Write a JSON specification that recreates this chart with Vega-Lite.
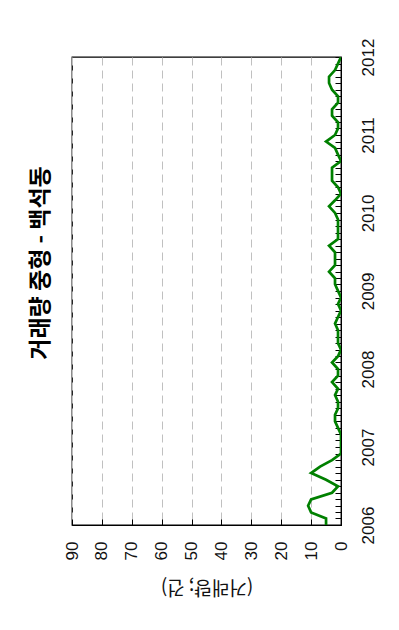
{
  "$schema": "https://vega.github.io/schema/vega-lite/v6.json",
  "width": 269,
  "height": 468,
  "autosize": {"type": "none"},
  "padding": {"left": 72, "top": 57, "right": 58, "bottom": 105},
  "background": "white",
  "title": {
    "text": "거래량 중형 - 백석동",
    "orient": "left",
    "anchor": "middle",
    "font": "Noto Sans CJK KR",
    "fontSize": 23,
    "fontWeight": "bold",
    "color": "#000000",
    "offset": 10,
    "dx": 28
  },
  "config": {
    "view": {"stroke": "#000000", "strokeWidth": 1.3},
    "axis": {
      "labelFont": "Liberation Sans",
      "labelFontSize": 17,
      "labelColor": "#111111",
      "domainColor": "#000000",
      "tickColor": "#000000"
    }
  },
  "data": {
    "values": [
      {"date": "2006-01", "count": 5}, {"date": "2006-02", "count": 5}, {"date": "2006-03", "count": 10}, {"date": "2006-04", "count": 11},
      {"date": "2006-05", "count": 10}, {"date": "2006-06", "count": 3}, {"date": "2006-07", "count": 1}, {"date": "2006-08", "count": 5},
      {"date": "2006-09", "count": 10}, {"date": "2006-10", "count": 7}, {"date": "2006-11", "count": 3}, {"date": "2006-12", "count": 0},
      {"date": "2007-01", "count": 0}, {"date": "2007-02", "count": 0}, {"date": "2007-03", "count": 0}, {"date": "2007-04", "count": 1},
      {"date": "2007-05", "count": 2}, {"date": "2007-06", "count": 2}, {"date": "2007-07", "count": 1}, {"date": "2007-08", "count": 1},
      {"date": "2007-09", "count": 2}, {"date": "2007-10", "count": 1}, {"date": "2007-11", "count": 3}, {"date": "2007-12", "count": 1},
      {"date": "2008-01", "count": 1}, {"date": "2008-02", "count": 3}, {"date": "2008-03", "count": 1}, {"date": "2008-04", "count": 0},
      {"date": "2008-05", "count": 1}, {"date": "2008-06", "count": 1}, {"date": "2008-07", "count": 1}, {"date": "2008-08", "count": 2},
      {"date": "2008-09", "count": 1}, {"date": "2008-10", "count": 0}, {"date": "2008-11", "count": 1}, {"date": "2008-12", "count": 0},
      {"date": "2009-01", "count": 1}, {"date": "2009-02", "count": 2}, {"date": "2009-03", "count": 2}, {"date": "2009-04", "count": 4},
      {"date": "2009-05", "count": 2}, {"date": "2009-06", "count": 2}, {"date": "2009-07", "count": 2}, {"date": "2009-08", "count": 4},
      {"date": "2009-09", "count": 1}, {"date": "2009-10", "count": 1}, {"date": "2009-11", "count": 1}, {"date": "2009-12", "count": 1},
      {"date": "2010-01", "count": 2}, {"date": "2010-02", "count": 4}, {"date": "2010-03", "count": 2}, {"date": "2010-04", "count": 0},
      {"date": "2010-05", "count": 1}, {"date": "2010-06", "count": 3}, {"date": "2010-07", "count": 3}, {"date": "2010-08", "count": 3},
      {"date": "2010-09", "count": 0}, {"date": "2010-10", "count": 1}, {"date": "2010-11", "count": 2}, {"date": "2010-12", "count": 5},
      {"date": "2011-01", "count": 2}, {"date": "2011-02", "count": 1}, {"date": "2011-03", "count": 1}, {"date": "2011-04", "count": 3},
      {"date": "2011-05", "count": 3}, {"date": "2011-06", "count": 1}, {"date": "2011-07", "count": 1}, {"date": "2011-08", "count": 3},
      {"date": "2011-09", "count": 4}, {"date": "2011-10", "count": 4}, {"date": "2011-11", "count": 2}, {"date": "2011-12", "count": 1},
      {"date": "2012-01", "count": 0}
    ],
    "format": {"parse": {"date": "utc:'%Y-%m'"}}
  },
  "mark": {"type": "line", "color": "#008000", "strokeWidth": 2.7, "clip": true},
  "encoding": {
    "y": {
      "field": "date",
      "type": "temporal",
      "scale": {"type": "utc", "domain": [{"year": 2006, "month": 1, "date": 1, "utc": true}, {"year": 2012, "month": 1, "date": 1, "utc": true}], "nice": false},
      "axis": {
        "orient": "right",
        "title": null,
        "tickCount": {"interval": "month", "step": 1},
        "labelExpr": "utcFormat(datum.value, '%m') == '01' ? utcFormat(datum.value, '%Y') : ''",
        "labelOverlap": false,
        "labelAngle": -90,
        "labelAlign": "center",
        "labelBaseline": "top",
        "labelPadding": 25,
        "tickSize": -6,
        "grid": false,
        "domain": true
      }
    },
    "x": {
      "field": "count",
      "type": "quantitative",
      "scale": {"domain": [0, 90], "reverse": true, "nice": false},
      "axis": {
        "orient": "bottom",
        "title": "(거래량; 건)",
        "titleFont": "Noto Sans CJK KR",
        "titleFontSize": 19,
        "titleFontWeight": "normal",
        "titleColor": "#111111",
        "titleAngle": 180,
        "titleX": 134.5,
        "titleY": 61,
        "titleAlign": "center",
        "titleBaseline": "middle",
        "values": [0, 10, 20, 30, 40, 50, 60, 70, 80, 90],
        "labelAngle": -90,
        "labelAlign": "right",
        "labelBaseline": "middle",
        "labelPadding": 22,
        "tickSize": -6,
        "grid": true,
        "gridColor": "#c0c0c0",
        "gridDash": [8, 5],
        "gridWidth": 1
      }
    }
  }
}
